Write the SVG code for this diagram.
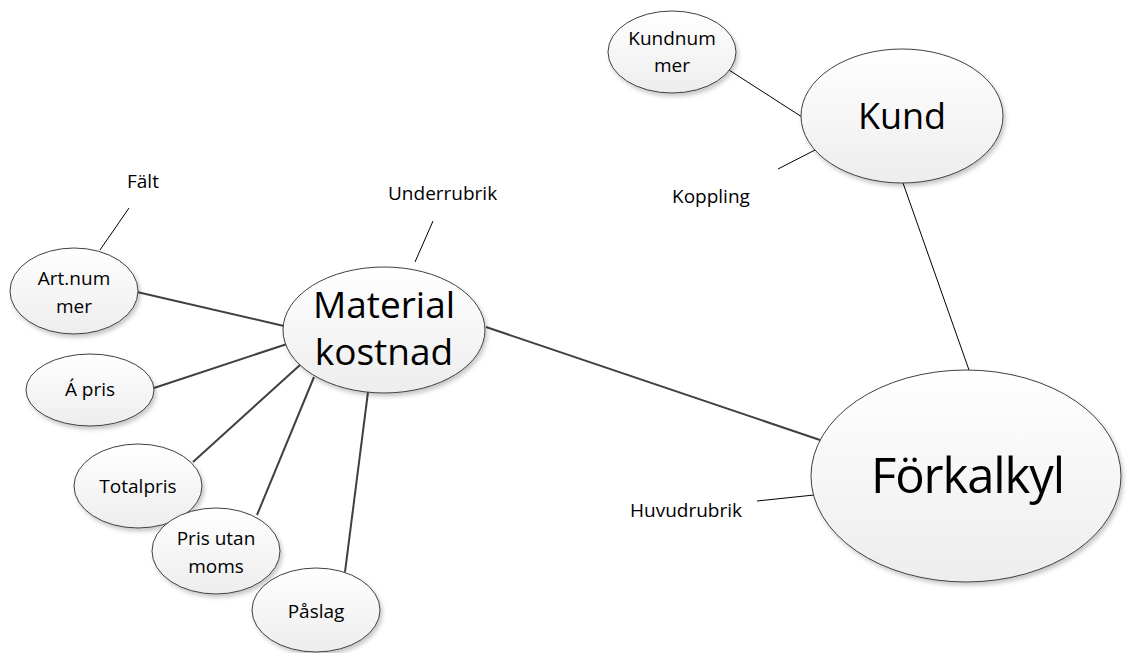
<svg xmlns="http://www.w3.org/2000/svg" width="1130" height="653" viewBox="0 0 1130 653">
  <style>
    .node { fill: url(#bubble); stroke: #404040; stroke-width: 1; filter: url(#shade); }
    .txt { font-family: "Open Sans", "Noto Sans", sans-serif; fill: #000; text-anchor: middle; }
    .lbl { font-family: "Open Sans", "Noto Sans", sans-serif; fill: #000; font-size: 19px; }
    .s { font-size: 19px; }
    .link { stroke: #404040; stroke-width: 2; fill: none; }
    .thin { stroke: #000; stroke-width: 1; fill: none; }
  </style>
  <defs>
    <linearGradient id="bubble" x1="0" y1="0" x2="0" y2="1">
      <stop offset="0" stop-color="#ffffff"/>
      <stop offset="1" stop-color="#ededed"/>
    </linearGradient>
    <filter id="shade" x="-10%" y="-10%" width="125%" height="130%">
      <feDropShadow dx="2" dy="3" stdDeviation="2" flood-color="#000" flood-opacity="0.22"/>
    </filter>
  </defs>
  <rect width="1130" height="653" fill="#fff"/>

  <!-- connectors -->
  <g id="connectors">
    <line class="link" x1="137" y1="292" x2="284" y2="326"/>
    <line class="link" x1="154" y1="388" x2="287" y2="344"/>
    <line class="link" x1="193" y1="462" x2="300" y2="365"/>
    <line class="link" x1="257" y1="515" x2="314" y2="377"/>
    <line class="link" x1="345" y1="572" x2="368" y2="392"/>
    <line class="link" x1="486" y1="327" x2="820" y2="440"/>
    <line class="thin" x1="903" y1="183" x2="969" y2="370"/>
    <line class="thin" x1="729" y1="70" x2="802" y2="117"/>
    <!-- leader lines for the annotations -->
    <line class="thin" x1="778" y1="169" x2="815" y2="150"/>
    <line class="thin" x1="100" y1="250" x2="129" y2="208"/>
    <line class="thin" x1="415" y1="262" x2="433" y2="221"/>
    <line class="thin" x1="757" y1="501" x2="814" y2="495"/>
  </g>

  <!-- annotations -->
  <g id="labels">
    <text class="lbl" x="127" y="188">Fält</text>
    <text class="lbl" x="388" y="200">Underrubrik</text>
    <text class="lbl" x="672" y="203" font-size="20">Koppling</text>
    <text class="lbl" x="630" y="517">Huvudrubrik</text>
  </g>

  <g id="kundnummer">
    <ellipse class="node" cx="672" cy="52" rx="64" ry="41"/>
    <text class="txt s" x="672" y="45">Kundnum</text>
    <text class="txt s" x="672" y="72">mer</text>
  </g>

  <g id="kund">
    <ellipse class="node" cx="902" cy="116" rx="101" ry="67"/>
    <text class="txt" x="902" y="129" font-size="36">Kund</text>
  </g>

  <g id="forkalkyl">
    <ellipse class="node" cx="966" cy="476" rx="155" ry="106"/>
    <text class="txt" x="968" y="493" font-size="49" textLength="194" lengthAdjust="spacing">Förkalkyl</text>
  </g>

  <g id="materialkostnad">
    <ellipse class="node" cx="384" cy="330" rx="101" ry="63"/>
    <text class="txt" x="384" y="318" font-size="37">Material</text>
    <text class="txt" x="384" y="365" font-size="37">kostnad</text>
  </g>

  <g id="artnummer">
    <ellipse class="node" cx="74" cy="291" rx="64" ry="43"/>
    <text class="txt s" x="74" y="285">Art.num</text>
    <text class="txt s" x="74" y="313">mer</text>
  </g>

  <g id="apris">
    <ellipse class="node" cx="90" cy="390" rx="64" ry="36"/>
    <text class="txt s" x="90" y="396">Á pris</text>
  </g>

  <g id="totalpris">
    <ellipse class="node" cx="138" cy="486" rx="64" ry="42"/>
    <text class="txt s" x="138" y="493">Totalpris</text>
  </g>

  <g id="prisutanmoms">
    <ellipse class="node" cx="216" cy="551" rx="64" ry="43"/>
    <text class="txt s" x="216" y="545">Pris utan</text>
    <text class="txt s" x="216" y="573">moms</text>
  </g>

  <g id="paslag">
    <ellipse class="node" cx="316" cy="610" rx="64" ry="42"/>
    <text class="txt s" x="316" y="618">Påslag</text>
  </g>
</svg>
